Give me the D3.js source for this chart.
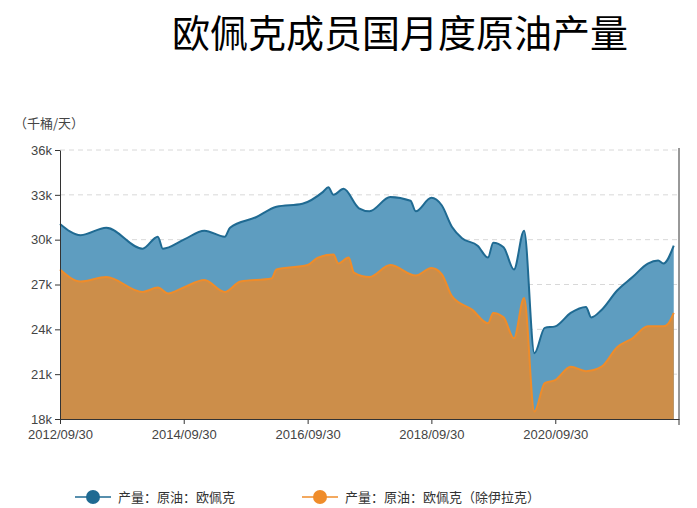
<!DOCTYPE html>
<html><head><meta charset="utf-8">
<script src="https://cdn.jsdelivr.net/npm/d3@7"></script>
<style>body{margin:0;background:#fff}svg{font-family:Verdana,"DejaVu Sans",sans-serif}</style>
</head><body><svg id="c" width="697" height="508"></svg>
<script>
const opecDates = ['2012-09','2013-01','2013-06','2014-01','2014-04','2014-05','2014-09','2015-01','2015-05','2015-06','2015-11','2016-03','2016-08','2016-12','2017-01','2017-02','2017-04','2017-07','2017-09','2018-01','2018-05','2018-06','2018-09','2018-11','2019-01','2019-03','2019-06','2019-08','2019-09','2019-11','2020-01','2020-03','2020-05','2020-07','2020-09','2020-12','2021-03','2021-04','2021-06','2021-09','2021-12','2022-03','2022-05','2022-06','2022-08']
const opecValues = [31.05,30.3,30.8,29.4,30.2,29.4,30.0,30.6,30.2,30.8,31.5,32.2,32.4,33.2,33.5,33.0,33.4,32.1,31.9,32.85,32.6,31.9,32.8,32.3,30.85,30.1,29.6,28.8,29.8,29.5,28.0,30.6,22.4,24.1,24.2,25.1,25.5,24.8,25.3,26.6,27.5,28.4,28.6,28.4,29.6]
const exIranDates = ['2012-09','2013-01','2013-06','2014-01','2014-04','2014-06','2014-09','2015-01','2015-05','2015-08','2016-02','2016-03','2016-09','2016-11','2017-02','2017-03','2017-05','2017-06','2017-09','2018-01','2018-06','2018-09','2018-11','2019-01','2019-05','2019-08','2019-09','2019-11','2020-01','2020-03','2020-05','2020-07','2020-09','2020-12','2021-03','2021-06','2021-09','2021-12','2022-03','2022-06','2022-07','2022-08']
const exIranValues = [28.0,27.2,27.5,26.5,26.8,26.4,26.8,27.3,26.5,27.2,27.4,28.0,28.3,28.8,29.0,28.4,28.8,27.8,27.5,28.3,27.6,28.1,27.7,26.2,25.3,24.4,25.1,24.8,23.4,26.1,18.5,20.4,20.6,21.5,21.2,21.5,22.8,23.4,24.2,24.2,24.4,25.1]
const yTicks = [18,21,24,27,30,33,36]
const xTickMonths = ['2012-09','2014-09','2016-09','2018-09','2020-09']
const xTickLabels = ['2012/09/30','2014/09/30','2016/09/30','2018/09/30','2020/09/30']
const seriesNames = ['产量：原油：欧佩克','产量：原油：欧佩克（除伊拉克）']

const svg = d3.select('#c')
const parse = d3.timeParse('%Y-%m')
const x = d3.scaleTime().domain([parse('2012-09'), parse('2022-09')]).range([60, 679])
const y = d3.scaleLinear().domain([18, 36]).range([419, 150])

svg.append('text').attr('x', 400).attr('y', 47).attr('text-anchor', 'middle')
    .attr('font-family', '"Noto Sans CJK SC"').attr('font-size', 38).text('欧佩克成员国月度原油产量')
svg.append('text').attr('x', 14).attr('y', 128).attr('font-family', '"Noto Sans CJK SC"')
    .attr('font-size', 13).attr('fill', '#444').text('（千桶/天）')

//grid
svg.selectAll('.grid').data(yTicks.slice(1)).join('line').attr('class', 'grid')
    .attr('x1', 60).attr('x2', 679).attr('y1', d => y(d)).attr('y2', d => y(d))
    .attr('stroke', '#d8d8d8').attr('stroke-dasharray', '5,4')

const mk = (dates, vals) => dates.map((d, i) => ({ t: parse(d), v: vals[i] }))
const opec = mk(opecDates, opecValues)
const exIran = mk(exIranDates, exIranValues)
const area = d3.area().x(d => x(d.t)).y0(y(18)).y1(d => y(d.v)).curve(d3.curveMonotoneX)
const line = d3.line().x(d => x(d.t)).y(d => y(d.v)).curve(d3.curveMonotoneX)

svg.append('path').attr('d', area(opec)).attr('fill', '#5e9dc0')
svg.append('path').attr('d', line(opec)).attr('fill', 'none').attr('stroke', '#1f6a92').attr('stroke-width', 2)
svg.append('path').attr('d', area(exIran)).attr('fill', '#cc8e4a')
svg.append('path').attr('d', line(exIran)).attr('fill', 'none').attr('stroke', '#ef8c2a').attr('stroke-width', 2)

//axes
const yAxis = svg.append('g').attr('transform', 'translate(60,0)')
    .call(d3.axisLeft(y).tickValues(yTicks).tickFormat(d => d + 'k').tickSize(5).tickSizeOuter(0))
yAxis.selectAll('text').attr('font-size', 13).attr('fill', '#444')
yAxis.selectAll('line,path').attr('stroke', '#333')
const xAxis = svg.append('g').attr('transform', 'translate(0,419)')
    .call(d3.axisBottom(x).tickValues(xTickMonths.map(parse)).tickFormat((d, i) => xTickLabels[i]).tickSize(5).tickSizeOuter(0))
xAxis.selectAll('text').attr('font-size', 13).attr('fill', '#444').attr('dy', '0.9em')
xAxis.selectAll('line,path').attr('stroke', '#333')
svg.append('line').attr('x1', 679).attr('x2', 679).attr('y1', 148).attr('y2', 425).attr('stroke', '#333')

//legend
const colors = ['#1f6a92', '#ef8c2a']
const lg = svg.selectAll('.lg').data(seriesNames).join('g').attr('class', 'lg')
    .attr('transform', (d, i) => `translate(${i ? 302 : 75},497)`)
lg.append('line').attr('x1', 0).attr('x2', 36).attr('stroke', (d, i) => colors[i]).attr('stroke-width', 1.5)
lg.append('circle').attr('cx', 18).attr('r', 7).attr('fill', (d, i) => colors[i])
lg.append('text').attr('x', 43).attr('y', 5).attr('font-family', '"Noto Sans CJK SC"')
    .attr('font-size', 13).attr('fill', '#333').text(d => d)
</script></body></html>
